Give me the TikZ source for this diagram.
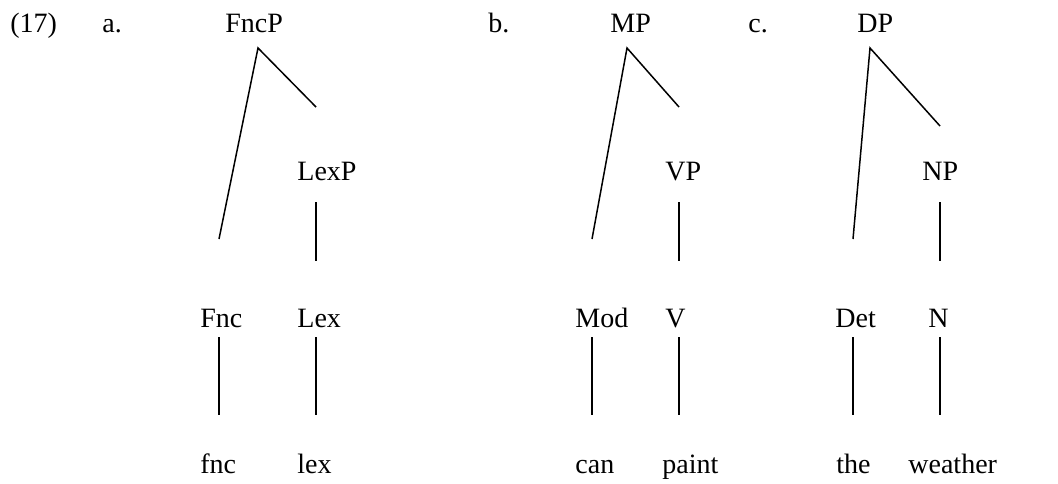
\documentclass[tikz,border=0pt]{standalone}
\usepackage{fontspec}
\setmainfont{Liberation Serif}
\begin{document}
\begin{tikzpicture}[x=0.5pt,y=-0.5pt,
  lbl/.style={anchor=base west,inner sep=0pt,font=\fontsize{14}{17}\selectfont},
  branch/.style={line width=0.75pt,line cap=butt}]
\useasboundingbox (0,0) rectangle (1058,483);

% example number and sub-labels
\node[lbl] (ex) at (10,32) {(17)};
\node[lbl] (la) at (102,32) {a.};
\node[lbl] (lb) at (488,32) {b.};
\node[lbl] (lc) at (748,32) {c.};

% tree a
\node[lbl] (FncP) at (225,32) {FncP};
\node[lbl] (LexP) at (297,180) {LexP};
\node[lbl] (Fnc)  at (200,327) {Fnc};
\node[lbl] (Lex)  at (297,327) {Lex};
\node[lbl] (fnc)  at (200,473) {fnc};
\node[lbl] (lex)  at (297,473) {lex};

% tree b
\node[lbl] (MP)    at (610,32) {MP};
\node[lbl] (VP)    at (665,180) {VP};
\node[lbl] (Mod)   at (575,327) {Mod};
\node[lbl] (V)     at (665,327) {V};
\node[lbl] (can)   at (575,473) {can};
\node[lbl] (paint) at (662,473) {paint};

% tree c
\node[lbl] (DP)      at (857,32) {DP};
\node[lbl] (NP)      at (922,180) {NP};
\node[lbl] (Det)     at (835,327) {Det};
\node[lbl] (N)       at (928,327) {N};
\node[lbl] (the)     at (836,473) {the};
\node[lbl] (weather) at (908,473) {weather};

% branch end points
\coordinate (aTop) at (258,48);  \coordinate (aL)  at (219,239); \coordinate (aR)  at (316,107);
\coordinate (aP1) at (316,202);  \coordinate (aP2) at (316,261);
\coordinate (aF1) at (219,337);  \coordinate (aF2) at (219,415);
\coordinate (aX1) at (316,337);  \coordinate (aX2) at (316,415);

\coordinate (bTop) at (627,48);  \coordinate (bL)  at (592,239); \coordinate (bR)  at (679,107);
\coordinate (bP1) at (679,202);  \coordinate (bP2) at (679,261);
\coordinate (bM1) at (592,337);  \coordinate (bM2) at (592,415);
\coordinate (bV1) at (679,337);  \coordinate (bV2) at (679,415);

\coordinate (cTop) at (870,48);  \coordinate (cL)  at (853,239); \coordinate (cR)  at (940,126);
\coordinate (cP1) at (940,202);  \coordinate (cP2) at (940,261);
\coordinate (cD1) at (853,337);  \coordinate (cD2) at (853,415);
\coordinate (cN1) at (940,337);  \coordinate (cN2) at (940,415);

% branches
\draw[branch] (aL) -- (aTop) -- (aR);
\draw[branch] (aP1) -- (aP2);
\draw[branch] (aF1) -- (aF2);
\draw[branch] (aX1) -- (aX2);

\draw[branch] (bL) -- (bTop) -- (bR);
\draw[branch] (bP1) -- (bP2);
\draw[branch] (bM1) -- (bM2);
\draw[branch] (bV1) -- (bV2);

\draw[branch] (cL) -- (cTop) -- (cR);
\draw[branch] (cP1) -- (cP2);
\draw[branch] (cD1) -- (cD2);
\draw[branch] (cN1) -- (cN2);
\end{tikzpicture}
\end{document}
